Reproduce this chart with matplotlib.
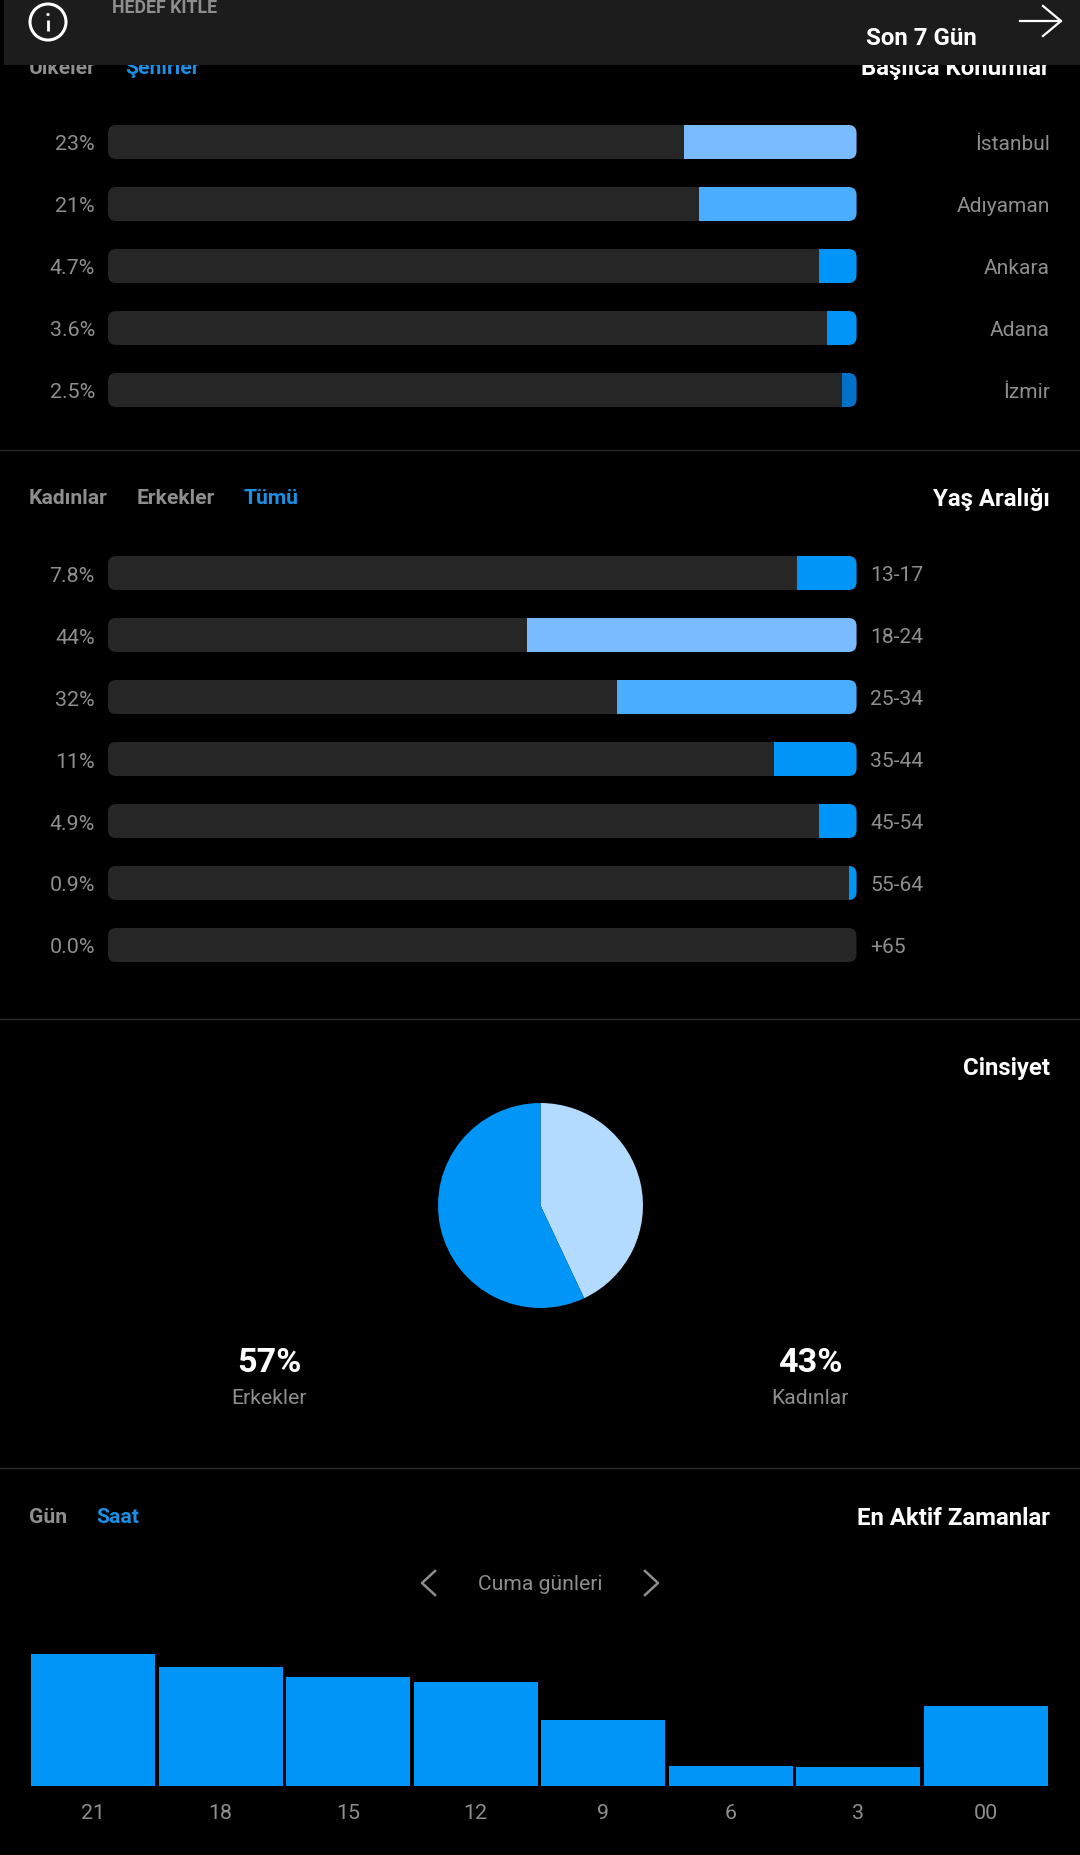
import matplotlib
matplotlib.use("Agg")
import matplotlib.pyplot as plt
from matplotlib.patches import FancyBboxPatch, Rectangle, Circle

plt.rcParams['font.family'] = ['Roboto', 'DejaVu Sans']

# ---- data ----
cities = ["İstanbul", "Adıyaman", "Ankara", "Adana", "İzmir"]
city_values = [23, 21, 4.7, 3.6, 2.5]
city_lengths = [23, 21, 5, 4, 2]
city_labels = ["23%", "21%", "4.7%", "3.6%", "2.5%"]
city_colors = ["#7ABBFF", "#4AADFF", "#0095F6", "#0095F6", "#0070C9"]

ages = ["13-17", "18-24", "25-34", "35-44", "45-54", "55-64", "+65"]
age_values = [7.8, 44, 32, 11, 4.9, 0.9, 0.0]
age_lengths = [8, 44, 32, 11, 5, 1, 0]
age_labels = ["7.8%", "44%", "32%", "11%", "4.9%", "0.9%", "0.0%"]
age_colors = ["#0095F6", "#7ABBFF", "#4AADFF", "#0095F6", "#0095F6", "#0095F6", "#0095F6"]

gender_names = ["Kadınlar", "Erkekler"]
gender_values = [43, 57]
gender_colors = ["#B3DBFF", "#0095F6"]

hours = ["21", "18", "15", "12", "9", "6", "3", "00"]
hour_values = [132, 119, 109, 104, 66, 20, 19, 80]

# ---- style ----
W, H = 1080, 1856
BG = "#000000"
TRACK = "#262626"
GREY = "#8E8E8E"
TAB_GREY = "#8E8E8E"
BLUE = "#0095F6"
TAB_BLUE = "#1A8FE3"
HEADER = "#1C1C1C"
SEP = "#2A2A2A"
REG = 15.4
NAME = 15.1
TAB = 15.2
BOLD = 17.3

fig = plt.figure(figsize=(W / 100, H / 100), dpi=100, facecolor=BG)


def axes_px(left, top, right, bottom, **kw):
    return fig.add_axes([left / W, 1 - bottom / H, (right - left) / W, (bottom - top) / H], **kw)


ov = axes_px(0, 0, W, H, zorder=10)
ov.set_xlim(0, W)
ov.set_ylim(H, 0)
ov.axis("off")
ov.patch.set_alpha(0)


def txt(x, y, s, color=GREY, size=REG, weight="normal", ha="left", z=3):
    ov.text(x, y, s, color=color, fontsize=size, fontweight=weight, ha=ha,
            va="center_baseline", zorder=z, clip_on=False)


BAR_LEFT, BAR_RIGHT, BAR_H, PITCH = 108, 856.5, 34, 62


def panel(first_top, names, lengths, labels, colors, name_x, name_ha):
    n = len(lengths)
    top = first_top + BAR_H / 2 - PITCH / 2
    ax = axes_px(BAR_LEFT, top, BAR_RIGHT, top + PITCH * n, zorder=1)
    ax.set_facecolor("none")
    ax.set_xlim(100, 0)
    ax.set_ylim(n - 0.5, -0.5)
    h = BAR_H / PITCH
    for i in range(n):
        track = ax.barh(i, 100, height=h, color=TRACK, linewidth=0)[0]
        fill = ax.barh(i, lengths[i], height=h, color=colors[i], linewidth=0)[0]
        y0 = first_top + PITCH * i
        clip = FancyBboxPatch((BAR_LEFT, y0), BAR_RIGHT - BAR_LEFT, BAR_H,
                              boxstyle="round,pad=0,rounding_size=8",
                              transform=ov.transData)
        track.set_clip_path(clip)
        fill.set_clip_path(clip)
        txt(name_x, y0 + BAR_H / 2 - 0.5, names[i], size=NAME, ha=name_ha)
    ax.set_yticks(range(n), labels)
    ax.set_xticks([])
    ax.tick_params(axis="y", length=0, pad=9.5, labelcolor=GREY, labelsize=REG)
    for s in ax.spines.values():
        s.set_visible(False)


panel(126, cities, city_lengths, city_labels, city_colors, 1050, "right")
panel(557, ages, age_lengths, age_labels, age_colors, 870, "left")

# separators
for y in (450.5, 1020, 1469):
    ov.plot([0, W], [y, y], color=SEP, lw=1.0, zorder=1)

# section headers
txt(29, 66, "Ülkeler", TAB_GREY, TAB, "bold")
txt(125, 66, "Şehirler", TAB_BLUE, TAB, "bold")
txt(1050, 66, "Başlıca Konumlar", "white", BOLD, "bold", "right")
txt(29, 497, "Kadınlar", TAB_GREY, TAB, "bold")
txt(137, 497, "Erkekler", TAB_GREY, TAB, "bold")
txt(244, 497, "Tümü", TAB_BLUE, TAB, "bold")
txt(1050, 497, "Yaş Aralığı", "white", BOLD, "bold", "right")
txt(1050, 1066, "Cinsiyet", "white", BOLD, "bold", "right")
txt(29, 1516, "Gün", TAB_GREY, TAB, "bold")
txt(96, 1516, "Saat", TAB_BLUE, TAB, "bold")
txt(1050, 1516, "En Aktif Zamanlar", "white", BOLD, "bold", "right")

# top bar
ov.add_patch(Rectangle((4, 0), W - 4, 65.5, color=HEADER, zorder=5, linewidth=0))
txt(112, 6, "HEDEF KITLE", "#8E8E8E", 12.8, "bold", z=6)
txt(866, 36, "Son 7 Gün", "white", 17.3, "bold", z=6)
ov.add_patch(Circle((48, 23), 18, fill=False, ec="white", lw=2.2, zorder=6))
ov.plot([48, 48], [21, 32], color="white", lw=2.0, zorder=6, solid_capstyle="butt")
ov.add_patch(Circle((48, 15.5), 1.6, color="white", zorder=6, linewidth=0))
ov.plot([1020, 1061], [22, 22], color="white", lw=1.6, zorder=6)
ov.plot([1043, 1061, 1043], [7, 22, 37], color="white", lw=1.6, zorder=6)

# gender pie
pie_ax = axes_px(540.5 - 103.5, 1206.5 - 103.5, 540.5 + 103.5, 1206.5 + 103.5, zorder=1)
pie_ax.pie(gender_values, colors=gender_colors, startangle=90, counterclock=False, radius=1.0,
           wedgeprops={"linewidth": 0})
pie_ax.set_xlim(-1.01, 1.01)
pie_ax.set_ylim(-1.01, 1.01)
txt(269, 1360, f"{gender_values[1]}%", "white", 24.6, "bold", "center")
txt(269, 1397, gender_names[1], GREY, 15.2, "normal", "center")
txt(810, 1360, f"{gender_values[0]}%", "white", 24.6, "bold", "center")
txt(810, 1397, gender_names[0], GREY, 15.2, "normal", "center")

# day selector
txt(540, 1583, "Cuma günleri", GREY, 15.2, "normal", "center")
ov.plot([435, 422, 435], [1572, 1584, 1596], color=GREY, lw=1.8, zorder=3)
ov.plot([645, 658, 645], [1572, 1584, 1596], color=GREY, lw=1.8, zorder=3)

# hour bars
bx = axes_px(29.2, 1640, 1049.8, 1787, zorder=1)
bx.set_facecolor("none")
bx.bar(range(len(hours)), hour_values, width=0.971, color=BLUE, linewidth=0)
bx.set_xlim(-0.5, len(hours) - 0.5)
bx.set_ylim(0, 147)
bx.set_yticks([])
bx.set_xticks(range(len(hours)), hours)
bx.tick_params(axis="x", length=0, pad=12.5, labelcolor=GREY, labelsize=REG)
for s in bx.spines.values():
    s.set_visible(False)

fig.savefig("out.png", dpi=100, facecolor=BG)
